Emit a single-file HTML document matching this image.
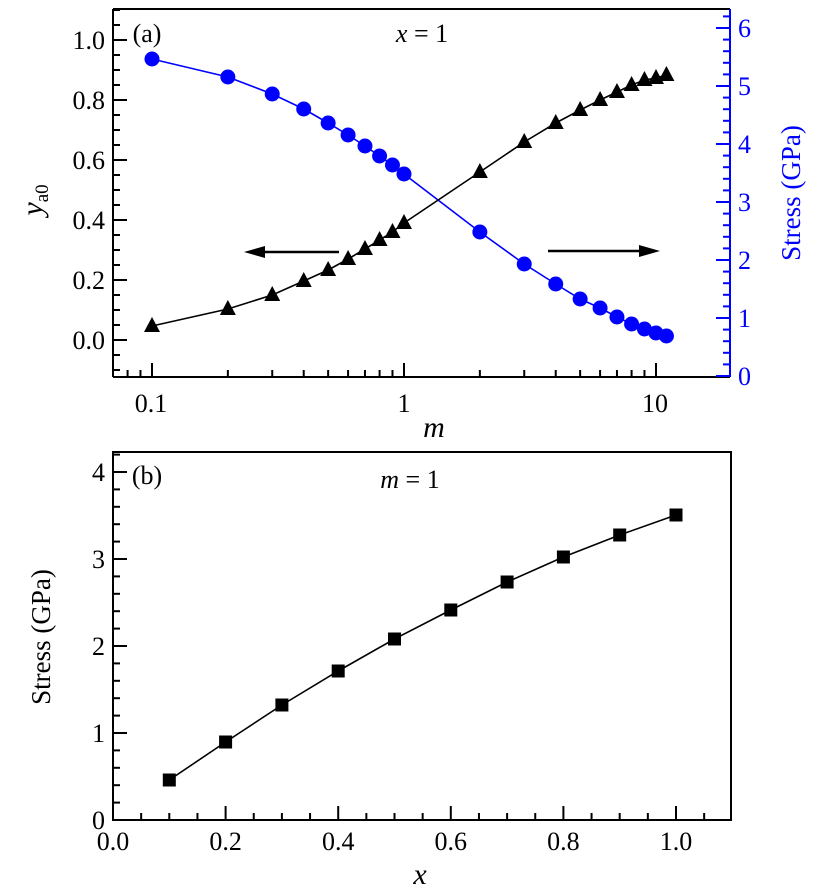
<!DOCTYPE html>
<html><head><meta charset="utf-8"><style>body{margin:0;background:#fff}svg{display:block}</style></head>
<body>
<svg id="s" width="817" height="896" viewBox="0 0 817 896" xmlns="http://www.w3.org/2000/svg" font-family="'Liberation Serif', 'DejaVu Serif', serif"></svg>
<script>
const s=document.getElementById('s');let h='';
const FF="font-family=\"'Liberation Serif', 'DejaVu Serif', serif\"";
function L(x1,y1,x2,y2,c,w){h+=`<line x1="${x1}" y1="${y1}" x2="${x2}" y2="${y2}" stroke="${c||'#000'}" stroke-width="${w||2}"/>`;}
function T(x,y,t,o){o=o||{};h+=`<text ${FF} x="${x}" y="${y}" font-size="${o.fs||26}" fill="${o.c||'#000'}" text-anchor="${o.a||'middle'}" ${o.tr?`transform="${o.tr}"`:''} ${o.it?'font-style="italic"':''}>${t}</text>`;}
const L0=113,R0=730,T0=9,B0=377;
L(L0,T0,R0,T0);L(L0,T0,L0,B0);L(L0,B0,R0,B0);L(R0,T0,R0,B0,'#00f');
for(let v=-0.1;v<=1.1001;v+=0.05){const y=340-v*300;if(y<T0||y>B0)continue;const maj=Math.abs(Math.round(v*10)/10-v)<1e-6&&Math.round(v*10)%2==0;L(L0,y,L0+(maj?14:7),y);}
for(let i=0;i<=5;i++){const v=i*0.2;T(L0-8,340-v*300+9,v.toFixed(1),{a:'end'});}
for(let i=0;i<=31;i++){const v=i*0.2;const y=376-v*58;if(y<T0)continue;const maj=i%5==0;L(R0,y,R0-(maj?14:7),y,'#00f');if(maj)T(R0+8,y+9,v,{a:'start',c:'#00f'});}
const lx=m=>404+252*Math.log10(m);
for(const d of [0.01,0.1,1,10]){for(let k=1;k<10;k++){const x=lx(d*k);if(x<L0||x>R0)continue;L(x,B0,x,B0-(k==1?14:7));}}
T(151,412,'0.1');T(404,412,'1');T(655,412,'10');
T(434,437,'m',{it:1,fs:30});
T(0,0,'y<tspan font-size="19" font-style="normal" dy="6">a0</tspan>',{it:1,fs:30,a:'middle',tr:'translate(42 200) rotate(-90)'});
T(0,0,'Stress (GPa)',{c:'#00f',fs:27,tr:'translate(800 193) rotate(-90)'});
T(147,42,'(a)');T(422,42,'<tspan font-style="italic">x</tspan> = 1');
const ms=[0.1,0.2,0.3,0.4,0.5,0.6,0.7,0.8,0.9,1,2,3,4,5,6,7,8,9,10,11];
const cy=[59,77,94,109,123,135,146,156,165,174,232,264,284,299,308,317,324,329,333,336];
const ty=[326,309,295,281,270,259,249,240,232,223,172,142,123,110,100,92,85,80,78,75];
let pc='',pt='';
ms.forEach((m,i)=>{pc+=`${lx(m)},${cy[i]} `;pt+=`${lx(m)},${ty[i]} `;});
h+=`<polyline points="${pc}" fill="none" stroke="#00f" stroke-width="1.6"/>`;
h+=`<polyline points="${pt}" fill="none" stroke="#000" stroke-width="1.6"/>`;
ms.forEach((m,i)=>{const x=lx(m);h+=`<circle cx="${x}" cy="${cy[i]}" r="7.5" fill="#00f"/>`;h+=`<polygon points="${x-8},${ty[i]+6} ${x+8},${ty[i]+6} ${x},${ty[i]-9}" fill="#000"/>`;});
L(262,252,339,252,'#000',2.5);h+=`<polygon points="244,252 265,246 265,258" fill="#000"/>`;
L(548,251,642,251,'#000',2.5);h+=`<polygon points="660,251 639,245 639,257" fill="#000"/>`;
const L1=113,R1=731,T1=452,B1=820;
h+=`<rect x="${L1}" y="${T1}" width="${R1-L1}" height="${B1-T1}" fill="none" stroke="#000" stroke-width="2"/>`;
const bx=v=>113+v*563,by=v=>820-v*87;
for(let i=1;i<22;i++){const x=bx(i*0.05);if(x>R1)break;L(x,B1,x,B1-(i%4==0?14:7));}
for(let i=0;i<=5;i++)T(bx(i*0.2),850,(i*0.2).toFixed(1));
for(let i=1;i<22;i++){const y=by(i*0.2);if(y<T1)break;L(L1,y,L1+(i%5==0?14:7),y);}
for(let i=0;i<=4;i++)T(L1-8,by(i)+9,i,{a:'end'});
T(420,884,'x',{it:1,fs:30});
T(0,0,'Stress (GPa)',{fs:27,tr:'translate(50 637) rotate(-90)'});
T(147,484,'(b)');T(410,488,'<tspan font-style="italic">m</tspan> = 1');
const sy=[780,742,705,671,639,610,582,557,535,515];let ps='';
sy.forEach((y,i)=>ps+=`${bx((i+1)/10)},${y} `);
h+=`<polyline points="${ps}" fill="none" stroke="#000" stroke-width="1.6"/>`;
sy.forEach((y,i)=>h+=`<rect x="${bx((i+1)/10)-6.5}" y="${y-6.5}" width="13" height="13" fill="#000"/>`);
s.innerHTML=h;
</script>
</body></html>
